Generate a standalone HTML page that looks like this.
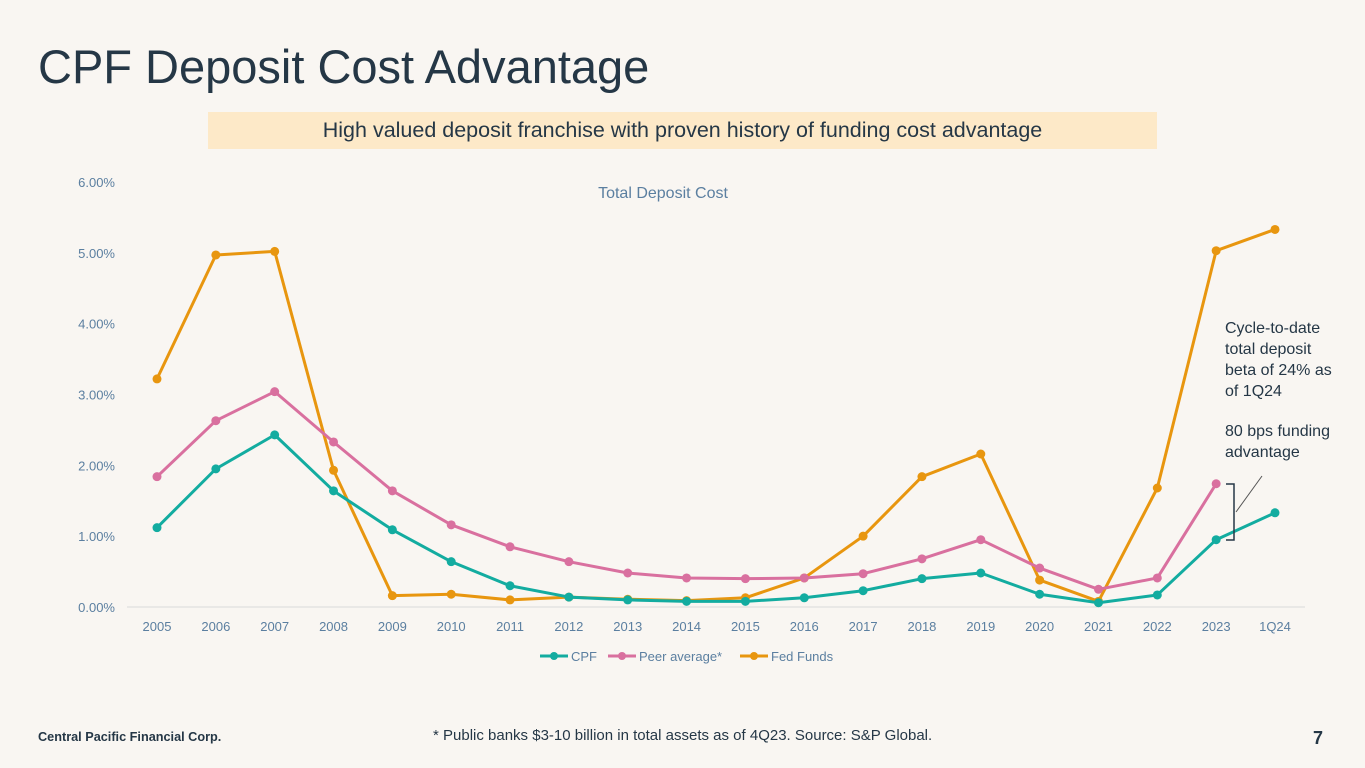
<!DOCTYPE html>
<html><head><meta charset="utf-8"><style>
body{margin:0;width:1365px;height:768px;background:#f9f6f2;font-family:"Liberation Sans",sans-serif;position:relative;overflow:hidden}
.t{position:absolute}
</style></head><body>
<div class="t" style="left:38px;top:39px;font-size:47px;color:#253746;">CPF Deposit Cost Advantage</div>
<div class="t" style="left:208px;top:112px;width:949px;height:37px;background:#fde9c8;color:#253746;font-size:21.5px;text-align:center;line-height:37px">High valued deposit franchise with proven history of funding cost advantage</div>
<svg class="t" style="left:0;top:0" width="1365" height="768">
<g id="g"></g>
<text x="663" y="198" text-anchor="middle" font-size="16" fill="#5b7fa0">Total Deposit Cost</text>
<text font-size="16" fill="#253746"><tspan x="1225" y="333">Cycle-to-date</tspan><tspan x="1225" y="354">total deposit</tspan><tspan x="1225" y="375">beta of 24% as</tspan><tspan x="1225" y="396">of 1Q24</tspan><tspan x="1225" y="436">80 bps funding</tspan><tspan x="1225" y="457">advantage</tspan></text>
<path d="M1226,484 H1234 V540 H1226" fill="none" stroke="#253746" stroke-width="1.5"/>
<line x1="1236" y1="512" x2="1262" y2="476" stroke="#555" stroke-width="1"/>
</svg>
<div class="t" style="left:38px;top:730px;font-size:12.7px;font-weight:bold;color:#253746">Central Pacific Financial Corp.</div>
<div class="t" style="left:433px;top:727px;font-size:15px;color:#253746">* Public banks $3-10 billion in total assets as of 4Q23. Source: S&amp;P Global.</div>
<div class="t" style="left:1313px;top:728px;font-size:18px;font-weight:bold;color:#253746">7</div>
<script>
const categories=["2005","2006","2007","2008","2009","2010","2011","2012","2013","2014","2015","2016","2017","2018","2019","2020","2021","2022","2023","1Q24"];
const cpf=[1.12,1.95,2.43,1.64,1.09,0.64,0.30,0.14,0.10,0.08,0.08,0.13,0.23,0.40,0.48,0.18,0.06,0.17,0.95,1.33];
const peer=[1.84,2.63,3.04,2.33,1.64,1.16,0.85,0.64,0.48,0.41,0.40,0.41,0.47,0.68,0.95,0.55,0.25,0.41,1.74,null];
const fed=[3.22,4.97,5.02,1.93,0.16,0.18,0.10,0.14,0.11,0.09,0.13,0.41,1.00,1.84,2.16,0.38,0.08,1.68,5.03,5.33];
const yTicks=[0,1,2,3,4,5,6];
const NS="http://www.w3.org/2000/svg",g=document.getElementById('g');
const x=i=>157+i*(1275-157)/(categories.length-1), y=v=>607-v*(607-182)/6;
function el(t,a){const e=document.createElementNS(NS,t);for(const k in a)e.setAttribute(k,a[k]);g.appendChild(e);return e;}
let ax=el('line',{x1:127,x2:1305,y1:607,y2:607,stroke:'#d9d9d9'});


yTicks.forEach(v=>{const t=el('text',{x:115,y:y(v)+5,'text-anchor':'end','font-size':13,fill:'#5b7fa0'});t.textContent=v.toFixed(2)+'%';

});
categories.forEach((c,i)=>{const t=el('text',{x:x(i),y:631,'text-anchor':'middle','font-size':13,fill:'#5b7fa0'});t.textContent=c;

});
[[fed,'#e8960f','fed-funds'],[peer,'#d9709f','peer-average'],[cpf,'#13aca0','cpf']].forEach(([d,c,n])=>{
let p='';d.forEach((v,i)=>{if(v!=null)p+=(p?'L':'M')+x(i)+','+y(v);});
const l=el('path',{d:p,fill:'none',stroke:c,'stroke-width':3,'stroke-linejoin':'round'});


d.forEach((v,i)=>{if(v==null)return;const m=el('circle',{cx:x(i),cy:y(v),r:4.5,fill:c});

});});
[['CPF','#13aca0',540],['Peer average*','#d9709f',608],['Fed Funds','#e8960f',740]].forEach(([n,c,x0])=>{
el('line',{x1:x0,x2:x0+28,y1:656,y2:656,stroke:c,'stroke-width':3});
const d=el('circle',{cx:x0+14,cy:656,r:4,fill:c});


const t=el('text',{x:x0+31,y:661,'font-size':13,fill:'#5b7fa0'});t.textContent=n;

});
</script>
</body></html>
